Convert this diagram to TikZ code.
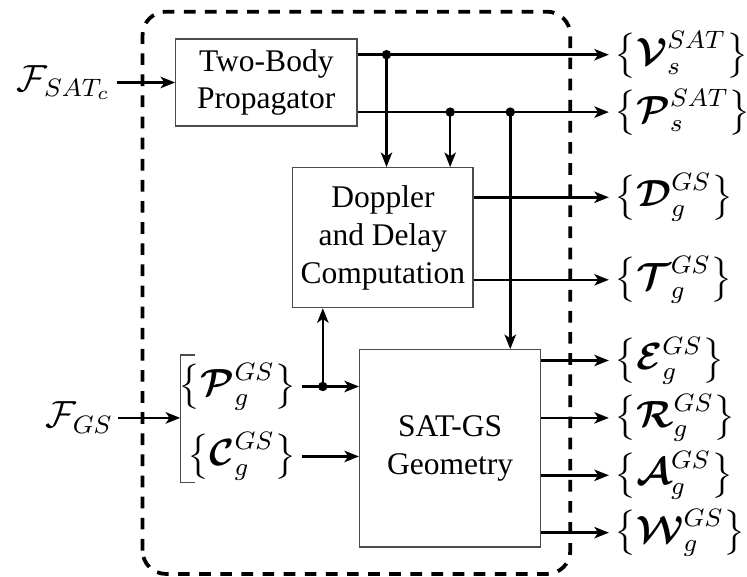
\documentclass[tikz,border=0pt]{standalone}
\usepackage{amsmath}
\usepackage{amssymb}
\usepackage{fontspec}
\setmainfont{Liberation Serif}
\usetikzlibrary{arrows.meta,positioning}

\tikzset{
  blk/.style={draw=black!70, align=center, inner sep=2pt},
  conn/.style={thick,-{Stealth[length=4.6pt,width=3.6pt,inset=1.2pt]}},
  lbl/.style={font=\large, inner sep=1.5pt},
  outlbl/.style={lbl, anchor=west},
}

\begin{document}
\begin{tikzpicture}
  \useasboundingbox (0,0) rectangle (8.33,6.43);
  % outer frame
  \draw[very thick, dash pattern=on 3.7pt off 3pt, rounded corners=0.26cm]
    (1.59,0.03) rectangle (6.36,6.30);

  \node[blk, minimum width=2.02cm, minimum height=0.97cm] (prop) at (2.97,5.51) {Two-Body\\Propagator};
  \node[blk, minimum width=2.01cm, minimum height=1.56cm] (dop) at (4.27,3.78) {Doppler\\and Delay\\Computation};
  \node[blk, minimum width=2.02cm, minimum height=2.20cm] (geo) at (5.02,1.43) {SAT-GS\\Geometry};

  % inputs
  \node[lbl, anchor=east] (fsat) at (1.30,5.51) {$\mathcal{F}_{SAT_c}$};
  \node[lbl, anchor=east] (fgs) at (1.32,1.77) {$\mathcal{F}_{GS}$};
  \node[lbl, anchor=east] (pg) at (3.37,2.12) {$\bigl\{\boldsymbol{\mathcal{P}}_g^{GS}\bigr\}$};
  \node[lbl, anchor=east] (cg) at (3.37,1.34) {$\bigl\{\boldsymbol{\mathcal{C}}_g^{GS}\bigr\}$};
  \coordinate (brk) at (2.01,1.77);
  \draw[black!70] (2.17,2.47) -| (brk) |- (2.17,1.05);

  % outputs
  \node[outlbl] (vs) at (6.79,5.82) {$\bigl\{\boldsymbol{\mathcal{V}}_s^{SAT}\bigr\}$};
  \node[outlbl] (ps) at (6.79,5.18) {$\bigl\{\boldsymbol{\mathcal{P}}_s^{SAT}\bigr\}$};
  \node[outlbl] (dg) at (6.79,4.23) {$\bigl\{\boldsymbol{\mathcal{D}}_g^{GS}\bigr\}$};
  \node[outlbl] (tg) at (6.79,3.31) {$\bigl\{\boldsymbol{\mathcal{T}}_g^{GS}\bigr\}$};
  \node[outlbl] (eg) at (6.79,2.41) {$\bigl\{\boldsymbol{\mathcal{E}}_g^{GS}\bigr\}$};
  \node[outlbl] (rg) at (6.79,1.77) {$\bigl\{\boldsymbol{\mathcal{R}}_g^{GS}\bigr\}$};
  \node[outlbl] (ag) at (6.79,1.13) {$\bigl\{\boldsymbol{\mathcal{A}}_g^{GS}\bigr\}$};
  \node[outlbl] (wg) at (6.79,0.49) {$\bigl\{\boldsymbol{\mathcal{W}}_g^{GS}\bigr\}$};

  % connectors
  \draw[conn] (fsat) -- (prop);
  \draw[conn] (fgs) -- (brk);
  \draw[conn] (prop.east |- vs) -- (vs);
  \draw[conn] (prop.east |- ps) -- (ps);
  \draw[conn] (dop.east |- dg) -- (dg);
  \draw[conn] (dop.east |- tg) -- (tg);
  \foreach \o in {eg,rg,ag,wg}
    \draw[conn] (geo.east |- \o) -- (\o);
  \draw[conn] (pg) -- (geo.west |- pg);
  \draw[conn] (cg) -- (geo.west |- cg);

  % taps
  \coordinate (tv) at (4.31,5.82);
  \coordinate (tp1) at (5.02,5.18);
  \coordinate (tp2) at (5.69,5.18);
  \coordinate (tgs) at (3.60,2.12);
  \draw[conn] (tv) -- (tv |- dop.north);
  \draw[conn] (tp1) -- (tp1 |- dop.north);
  \draw[conn] (tp2) -- (tp2 |- geo.north);
  \draw[conn] (tgs) -- (tgs |- dop.south);
  \foreach \j in {tv,tp1,tp2,tgs}
    \fill (\j) circle (1.5pt);
\end{tikzpicture}
\end{document}
